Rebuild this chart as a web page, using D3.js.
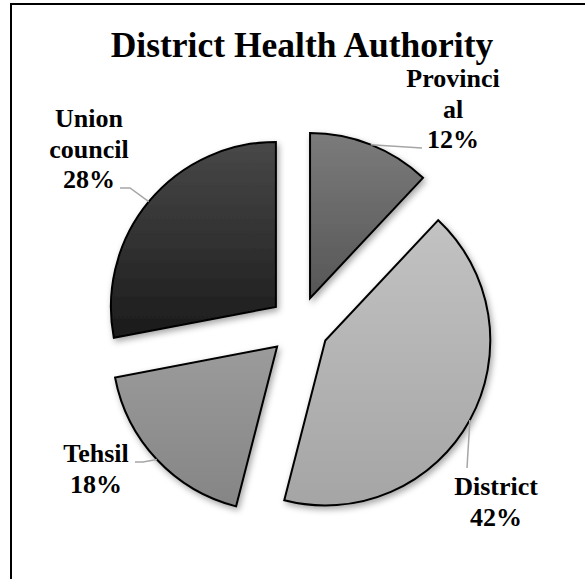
<!DOCTYPE html>
<html>
<head>
<meta charset="utf-8">
<script src="https://cdn.jsdelivr.net/npm/d3@7"></script>
<style>
  html, body { margin: 0; padding: 0; background: #fff; }
  svg { display: block; }
</style>
</head>
<body>
<svg id="chart" width="585" height="579"></svg>
<script>
// Share of responses by level of authority
const categories = ["Provincial", "District", "Tehsil", "Union council"];
const values = [12, 42, 18, 28];
const labelLines = [["Provinci", "al", "12%"], ["District", "42%"], ["Tehsil", "18%"], ["Union", "council", "28%"]];
const gradTop = ["#7b7b7b", "#c2c2c2", "#9b9b9b", "#484848"];
const gradBottom = ["#565656", "#a5a5a5", "#858585", "#1b1b1b"];

const width = 585, height = 579;
const cx = 299, cy = 326, radius = 165, explode = 30;
const fontFamily = "'Liberation Serif', 'Times New Roman', Tinos, serif";

const svg = d3.select("#chart");
const defs = svg.append("defs");

// soft drop shadow under slices
const shadow = defs.append("filter").attr("id", "shadow")
  .attr("x", "-20%").attr("y", "-20%").attr("width", "140%").attr("height", "140%");
shadow.append("feDropShadow")
  .attr("dx", 2).attr("dy", 3).attr("stdDeviation", 3)
  .attr("flood-color", "#000").attr("flood-opacity", 0.35);

categories.forEach((c, i) => {
  const g = defs.append("linearGradient").attr("id", "grad" + i)
    .attr("x1", 0).attr("y1", 0).attr("x2", 0).attr("y2", 1);
  g.append("stop").attr("offset", "0%").attr("stop-color", gradTop[i]);
  g.append("stop").attr("offset", "100%").attr("stop-color", gradBottom[i]);
});

// outer frame (left and top edges visible)
svg.append("rect")
  .attr("x", 11).attr("y", 4).attr("width", 600).attr("height", 600)
  .attr("fill", "none").attr("stroke", "#000").attr("stroke-width", 2);

svg.append("text")
  .attr("x", 302).attr("y", 57)
  .attr("text-anchor", "middle")
  .attr("font-family", fontFamily)
  .attr("font-weight", "bold")
  .attr("font-size", 35.5)
  .text("District Health Authority");

const pie = d3.pie().sort(null).value(d => d)(values);
const arc = d3.arc().innerRadius(0).outerRadius(radius);

const root = svg.append("g").attr("transform", `translate(${cx},${cy})`);

const offset = d => {
  const m = (d.startAngle + d.endAngle) / 2;
  return [Math.sin(m) * explode, -Math.cos(m) * explode];
};

root.selectAll("path.slice")
  .data(pie)
  .join("path")
  .attr("class", "slice")
  .attr("transform", d => `translate(${offset(d)[0]},${offset(d)[1]})`)
  .attr("d", arc)
  .attr("fill", (d, i) => `url(#grad${i})`)
  .attr("stroke", "#000")
  .attr("stroke-width", 2)
  .attr("stroke-linejoin", "miter")
  .attr("filter", "url(#shadow)");

// label layout: centre x and first baseline, plus leader path points
const labelLayout = [
  { x: 453, y: 87, lead: [[422, 148]] },
  { x: 496, y: 495, lead: [[467, 468]] },
  { x: 96, y: 462, lead: [[143, 462], [135, 462]] },
  { x: 89, y: 127, lead: [[130, 188], [120, 188]] }
];
const lineGap = 30.5;

pie.forEach((d, i) => {
  const m = (d.startAngle + d.endAngle) / 2;
  const [ox, oy] = offset(d);
  const sx = cx + ox + Math.sin(m) * radius;
  const sy = cy + oy - Math.cos(m) * radius;
  const pts = [[sx, sy]].concat(labelLayout[i].lead);
  svg.append("path")
    .attr("d", d3.line()(pts))
    .attr("fill", "none")
    .attr("stroke", "#a6a6a6")
    .attr("stroke-width", 1.5);

  const t = svg.append("text")
    .attr("text-anchor", "middle")
    .attr("font-family", fontFamily)
    .attr("font-weight", "bold")
    .attr("font-size", 26);
  labelLines[i].forEach((line, j) => {
    t.append("tspan")
      .attr("x", labelLayout[i].x)
      .attr("y", labelLayout[i].y + j * lineGap)
      .text(line);
  });
});
</script>
</body>
</html>
